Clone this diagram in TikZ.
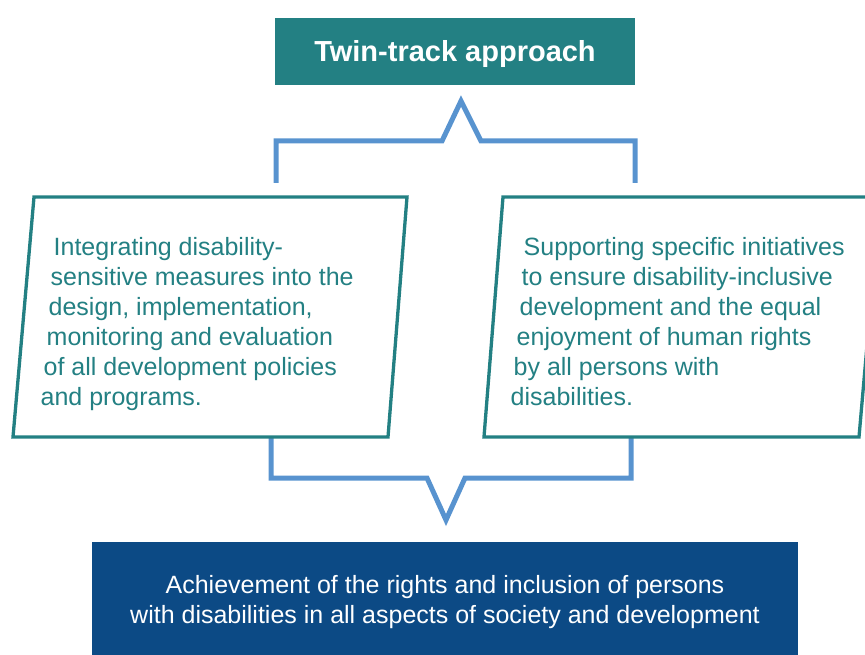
\documentclass[tikz,border=0pt]{standalone}
\usepackage{fontspec}
\setmainfont{Liberation Sans}
\usepackage{tikz}
\usetikzlibrary{positioning}
\definecolor{twinteal}{RGB}{35,128,131}
\definecolor{bracketblue}{RGB}{88,147,207}
\definecolor{goalblue}{RGB}{12,74,133}

\begin{document}
\begin{tikzpicture}[
    x=1pt, y=-1pt,
    title/.style={rectangle, fill=twinteal, text=white, font=\fontsize{29}{34}\selectfont\bfseries, minimum width=360pt, minimum height=67pt, inner sep=0pt, text height=27.5pt, text depth=6.5pt},
    track/.style={draw=twinteal, line width=3.3pt, fill=white, line join=miter},
    tracktext/.style={text=twinteal, align=left, anchor=base west, inner sep=0pt, font=\fontsize{25}{30}\selectfont},
    goal/.style={rectangle, fill=goalblue, text=white, align=center, minimum width=706pt, minimum height=113pt, inner sep=0pt, font=\fontsize{25}{30}\selectfont, text height=55pt, text depth=6pt},
    bracket/.style={draw=bracketblue, line width=5pt, line join=miter}
]
\useasboundingbox (0,0) rectangle (865,655);
\clip (0,0) rectangle (865,655);

% Heading
\node[title] (twin) at (455,51.5) {Twin-track approach};

% Bracket under the heading
\coordinate (upleft) at (276,183);
\coordinate (upright) at (635,183);
\draw[bracket] (upleft) |- (442,141) -- (461,101) -- (481,141) -| (upright);

% Bracket above the goal
\coordinate (lowleft) at (271,436);
\coordinate (lowright) at (631,436);
\draw[bracket] (lowleft) |- (427,478) -- (446,520) -- (465,478) -| (lowright);

% Track 1: mainstreaming (node sits on its last line)
\draw[track] (34,197) -- (407,197) -- (388,437) -- (13,437) -- cycle;
\node[tracktext] (mainstream) at (40.5,405) {\hspace*{13pt}Integrating disability-\\
  \hspace*{10pt}sensitive measures into the\\
  \hspace*{8pt}design, implementation,\\
  \hspace*{6pt}monitoring and evaluation\\
  \hspace*{3pt}of all development policies\\
  and programs.};

% Track 2: specific initiatives
\draw[track] (503,197) -- (880,197) -- (859,437) -- (484,437) -- cycle;
\node[tracktext] (specific) at (510.5,405) {\hspace*{13pt}Supporting specific initiatives\\
  \hspace*{11pt}to ensure disability-inclusive\\
  \hspace*{9pt}development and the equal\\
  \hspace*{6pt}enjoyment of human rights\\
  \hspace*{3pt}by all persons with\\
  disabilities.};

% Goal
\node[goal] (achieve) at (445,598.5) {Achievement of the rights and inclusion of persons\\
  with disabilities in all aspects of society and development};

\end{tikzpicture}
\end{document}
